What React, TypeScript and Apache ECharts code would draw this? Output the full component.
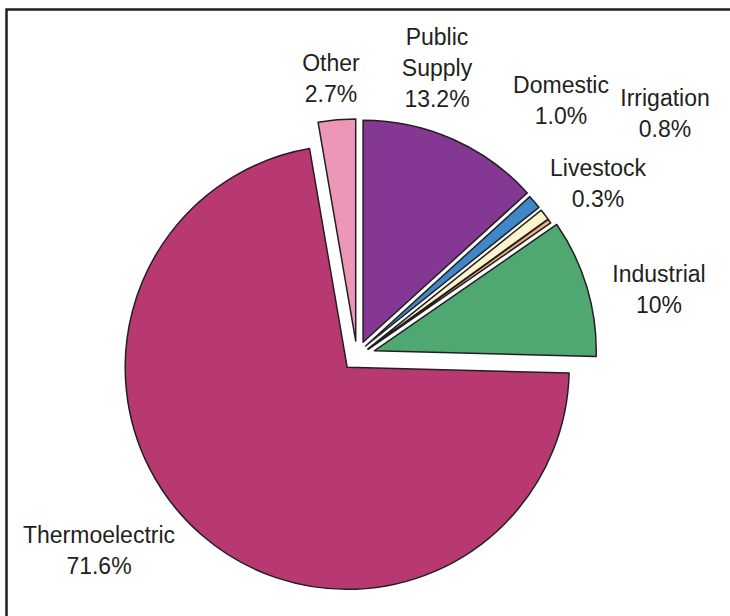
import React, { useEffect, useRef } from "react";
import * as echarts from "echarts";

const names = ["Public\nSupply", "Domestic", "Irrigation", "Livestock", "Industrial", "Thermoelectric", "Other"];
const values = [13.2, 1.0, 0.8, 0.3, 10, 71.6, 2.7];
const pctLabels = ["13.2%", "1.0%", "0.8%", "0.3%", "10%", "71.6%", "2.7%"];

const colors = ["#843893", "#3f87c8", "#fbf4cd", "#eeb27a", "#4fa872", "#b83871", "#ec97b7"];
// explode distance (radial) and small tangential shift per slice
const explode = [15, 13, 13, 13, 18, 15, 15];
const shift = [0, -2, 1, 1, 0, 0, 0];
const labelPos = [[437, 68], [561, 100], [665, 113], [598, 183], [659, 289], [99, 550], [331, 78]];

const CX = 357;
const CY = 356;
const R = 222;

export default function App() {
  const ref = useRef<HTMLDivElement>(null);
  useEffect(() => {
    document.body.style.margin = "0";
    const chart = echarts.init(ref.current!, null, { renderer: "svg" });
    const total = values.reduce((a, b) => a + b, 0);
    let cum = 0;
    const series: any[] = values.map((v, i) => {
      const a0 = (cum / total) * 360;
      cum += v;
      const a1 = (cum / total) * 360;
      const mid = ((a0 + a1) / 2) * Math.PI / 180;
      const ux = Math.sin(mid), uy = -Math.cos(mid);
      const nx = Math.cos(mid), ny = Math.sin(mid);
      const cx = CX + explode[i] * ux + shift[i] * nx;
      const cy = CY + explode[i] * uy + shift[i] * ny;
      return {
        type: "pie",
        center: [cx, cy],
        radius: R,
        startAngle: 90,
        clockwise: true,
        minAngle: 0,
        avoidLabelOverlap: false,
        silent: true,
        emphasis: { disabled: true },
        labelLine: { show: false },
        labelLayout: () => ({
          x: labelPos[i][0],
          y: labelPos[i][1],
          align: "center",
          verticalAlign: "middle",
        }),
        data: values.map((val, j) => ({
          name: names[j],
          value: val,
          itemStyle:
            j === i
              ? { color: colors[j], borderColor: "#231f20", borderWidth: 1.5 }
              : { color: "rgba(0,0,0,0)", borderWidth: 0 },
          label: {
            show: j === i,
            position: "outside",
            formatter: () => names[j] + "\n" + pctLabels[j],
            fontFamily: "Liberation Sans, Arial, sans-serif",
            fontSize: 23,
            lineHeight: 31,
            color: "#231f20",
          },
        })),
      };
    });
    chart.setOption({
      animation: false,
      backgroundColor: "#ffffff",
      graphic: [
        {
          type: "polyline",
          shape: { points: [[6.5, 700], [6.5, 9.5], [760, 9.5]] },
          style: { stroke: "#231f20", lineWidth: 2.5, fill: null },
        },
      ],
      series,
    });
    return () => chart.dispose();
  }, []);
  return <div ref={ref} style={{ width: 730, height: 616 }} />;
}
